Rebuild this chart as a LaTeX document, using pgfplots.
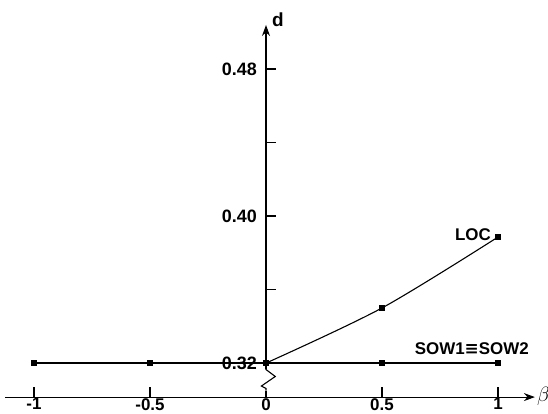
\documentclass[border=0pt]{standalone}
\usepackage{fontspec}
\setmainfont{Liberation Sans}
\newfontfamily\djv{DejaVu Sans}
\usepackage{pgfplots}
\pgfplotsset{compat=1.18}
\usetikzlibrary{arrows.meta}
\begin{document}
\begin{tikzpicture}
\begin{axis}[
  x=232bp, y=1837.5bp,
  xmin=-1.125, xmax=1.159, ymin=0.3015, ymax=0.504,
  clip=false,
  axis x line=bottom, axis y line=center,
  axis line style={line width=1.1pt},
  x axis line style={-{Stealth[length=11bp,width=8bp]}},
  y axis line style={-{Stealth[length=11bp,width=8bp]}},
  xtick={-1,-0.5,0,0.5,1}, xticklabels={-1,-0.5,0,0.5,1},
  ytick={0.32,0.36,0.40,0.44,0.48}, yticklabels={0.32,,0.40,,0.48},
  tick style={line width=1.6pt, black},
  major tick length=10bp,
  tick align=center,
  x tick style={yshift=5bp},
  y tick style={xshift=5bp},
  tick label style={font=\fontsize{18}{21}\selectfont\bfseries},
  xticklabel style={anchor=north, inner sep=0bp, yshift=4bp, font=\fontsize{17}{20}\selectfont\bfseries},
  yticklabel style={anchor=east, inner sep=4bp},
  /pgf/number format/assume math mode=true,
]
\addplot[line width=1.5pt, black, mark=square*, mark size=2.5bp] coordinates {(-1,0.32)(-0.5,0.32)(0,0.32)(0.5,0.32)(1,0.32)};
\addplot[line width=1.1pt, black, smooth, mark=square*, mark size=2.3bp] coordinates {(0,0.32)(0.5,0.350)(1,0.3886)};
\draw[white, line width=4bp] (axis cs:0,0.3050) -- (axis cs:0,0.3168);
\draw[black, line width=1.1pt] (axis cs:0,0.3170) -- (axis cs:0,0.3165) -- (axis cs:0.04,0.3127) -- (axis cs:-0.02,0.3075) -- (axis cs:0,0.3062) -- (axis cs:0,0.3050);
\node[anchor=base east, font=\fontsize{17}{20}\selectfont\bfseries, inner sep=0pt] at ([xshift=-7bp,yshift=-3bp]axis cs:1,0.3886) {LOC};
\node[anchor=base east, font=\fontsize{17}{20}\selectfont\bfseries, inner sep=0pt] at ([xshift=31bp,yshift=9bp]axis cs:1,0.32) {SOW1{\djv\bfseries ≡}SOW2};
\node[anchor=south west, font=\fontsize{19}{22}\selectfont\bfseries, inner sep=0pt] at ([xshift=6bp,yshift=-2bp]axis cs:0,0.504) {d};
\node[anchor=west, inner sep=0pt] at ([xshift=2bp,yshift=1bp]axis cs:1.159,0.3015) {\fontsize{20}{24}\selectfont$\beta$};
\coordinate (BL) at (axis cs:-1.1466,0.2928);
\coordinate (TR) at (axis cs:1.2155,0.5176);
\end{axis}
\pgfresetboundingbox
\path[use as bounding box] (BL) rectangle (TR);
\end{tikzpicture}
\end{document}
